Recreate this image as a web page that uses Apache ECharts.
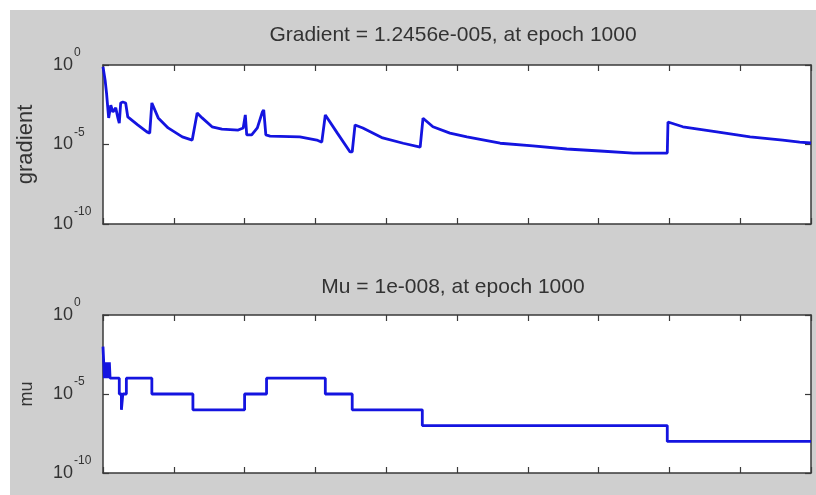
<!DOCTYPE html>
<html>
<head>
<meta charset="utf-8">
<script src="https://cdn.jsdelivr.net/npm/echarts@6/dist/echarts.min.js"></script>
<style>
html, body { margin: 0; padding: 0; background: #fff; }
#chart { width: 816px; height: 495px; }
</style>
</head>
<body>
<div id="chart"></div>
<script>
// training state plot: gradient and mu per epoch
var gradTitle = 'Gradient = 1.2456e-005, at epoch 1000';
var muTitle = 'Mu = 1e-008, at epoch 1000';
var yTickValues = [1e-10, 1e-5, 1];

var gradEpochs = [0, 3, 5, 7, 8, 11, 14, 18, 21, 23, 25, 28, 32, 35, 49, 62, 66, 69, 78, 92,
    112, 126, 133, 140, 154, 168, 191, 198, 201, 203, 210, 218, 225, 227, 230, 236, 278, 302, 309, 314,
    316, 331, 349, 352, 356, 367, 395, 424, 448, 452, 466, 490, 514, 561, 607, 655, 702, 749, 797, 798,
    819, 867, 914, 960, 984, 1000];
var gradValues = [7.8e-1, 1.1e-1, 1.7e-2, 1.5e-3, 4.7e-4, 3.0e-3, 1.1e-3, 2.0e-3, 4.7e-4, 2.2e-4,
    4.1e-3, 4.7e-3, 4.1e-3, 5.4e-4, 1.7e-4, 6.2e-5, 5.2e-5, 4.1e-3, 4.7e-4, 1.1e-4,
    3.0e-5, 1.9e-5, 9.5e-4, 4.7e-4, 1.3e-4, 9.3e-5, 8.1e-5, 1.1e-4, 7.2e-4, 4.0e-5,
    4.0e-5, 1.1e-4, 1.1e-3, 1.5e-3, 4.0e-5, 3.4e-5, 3.0e-5, 1.9e-5, 1.4e-5, 7.2e-4,
    5.4e-4, 5.2e-5, 3.4e-6, 3.4e-6, 1.7e-4, 1.1e-4, 2.6e-5, 1.2e-5, 6.9e-6, 4.5e-4,
    1.3e-4, 5.2e-5, 3.0e-5, 1.2e-5, 8.1e-6, 5.2e-6, 3.9e-6, 2.9e-6, 2.9e-6, 2.6e-4,
    1.3e-4, 6.2e-5, 3.0e-5, 1.9e-5, 1.4e-5, 1.2456e-5];

var muEpochs = [0, 1, 2, 3, 4, 5, 6, 7, 8, 9, 10, 23, 26, 28, 33, 69, 127, 200, 231, 314, 352, 451, 797, 1000];
var muValues = [1e-2, 1e-3, 1e-4, 1e-3, 1e-4, 1e-3, 1e-4, 1e-3, 1e-4, 1e-3, 1e-4, 1e-5, 1e-6, 1e-5,
    1e-4, 1e-5, 1e-6, 1e-5, 1e-4, 1e-5, 1e-6, 1e-7, 1e-8, 1e-8];

var font = 'Liberation Sans, Arial, sans-serif';
var lineCol = '#3a3a3a';
var blue = '#1414e0';

function zip(xs, ys) {
    return xs.map(function (x, i) { return [x, ys[i]]; });
}

function xAxisFor(gi, pos) {
    return {
        type: 'value', gridIndex: gi, position: pos, min: 0, max: 1000, interval: 100,
        axisLine: { show: true, onZero: false, lineStyle: { color: lineCol, width: 1.5 } },
        axisTick: { show: true, inside: true, length: 6, lineStyle: { color: lineCol, width: 1.2 } },
        axisLabel: { show: false },
        splitLine: { show: false }
    };
}

function yAxisFor(gi, pos, name) {
    var left = pos === 'left';
    return {
        type: 'log', logBase: 10, gridIndex: gi, position: pos, min: 1e-10, max: 1,
        name: left ? name : '', nameLocation: 'middle', nameRotate: 90,
        nameGap: name === 'mu' ? 67 : 66,
        nameTextStyle: { fontFamily: font, fontSize: name === 'mu' ? 18 : 22, color: '#333' },
        axisLine: { show: true, onZero: false, lineStyle: { color: lineCol, width: 1.5 } },
        axisTick: { show: true, inside: true, length: 6, customValues: yTickValues,
            lineStyle: { color: lineCol, width: 1.2 } },
        axisLabel: {
            show: left, customValues: yTickValues, align: 'left', margin: 50,
            formatter: function (v) {
                return '{b|10}{s|' + Math.round(Math.log10(v)) + '}';
            },
            rich: {
                b: { fontFamily: font, fontSize: 18, color: '#333' },
                s: { fontFamily: font, fontSize: 12, color: '#333', padding: [0, 0, 24, 1] }
            }
        },
        splitLine: { show: false }
    };
}

var chart = echarts.init(document.getElementById('chart'));
chart.setOption({
    animation: false,
    backgroundColor: '#fff',
    graphic: [{
        type: 'rect', z: -100, silent: true,
        shape: { x: 10, y: 10, width: 806, height: 485 },
        style: { fill: '#cfcfcf' }
    }],
    title: [
        { text: gradTitle, left: 448, top: 20, textAlign: 'center',
            textStyle: { fontFamily: font, fontSize: 21, fontWeight: 'normal', color: '#333' } },
        { text: muTitle, left: 448, top: 272, textAlign: 'center',
            textStyle: { fontFamily: font, fontSize: 21, fontWeight: 'normal', color: '#333' } }
    ],
    grid: [
        { left: 103, top: 65, width: 708, height: 159, show: true, backgroundColor: '#fff',
            borderWidth: 0, outerBoundsMode: 'none' },
        { left: 103, top: 315, width: 708, height: 158, show: true, backgroundColor: '#fff',
            borderWidth: 0, outerBoundsMode: 'none' }
    ],
    xAxis: [xAxisFor(0, 'bottom'), xAxisFor(0, 'top'), xAxisFor(1, 'bottom'), xAxisFor(1, 'top')],
    yAxis: [yAxisFor(0, 'left', 'gradient'), yAxisFor(0, 'right', 'gradient'),
        yAxisFor(1, 'left', 'mu'), yAxisFor(1, 'right', 'mu')],
    series: [
        { type: 'line', xAxisIndex: 0, yAxisIndex: 0, data: zip(gradEpochs, gradValues),
            showSymbol: false, lineStyle: { color: blue, width: 2.8 } },
        { type: 'line', xAxisIndex: 2, yAxisIndex: 2, data: zip(muEpochs, muValues), step: 'end',
            showSymbol: false, lineStyle: { color: blue, width: 2.8 } }
    ]
});
</script>
</body>
</html>
